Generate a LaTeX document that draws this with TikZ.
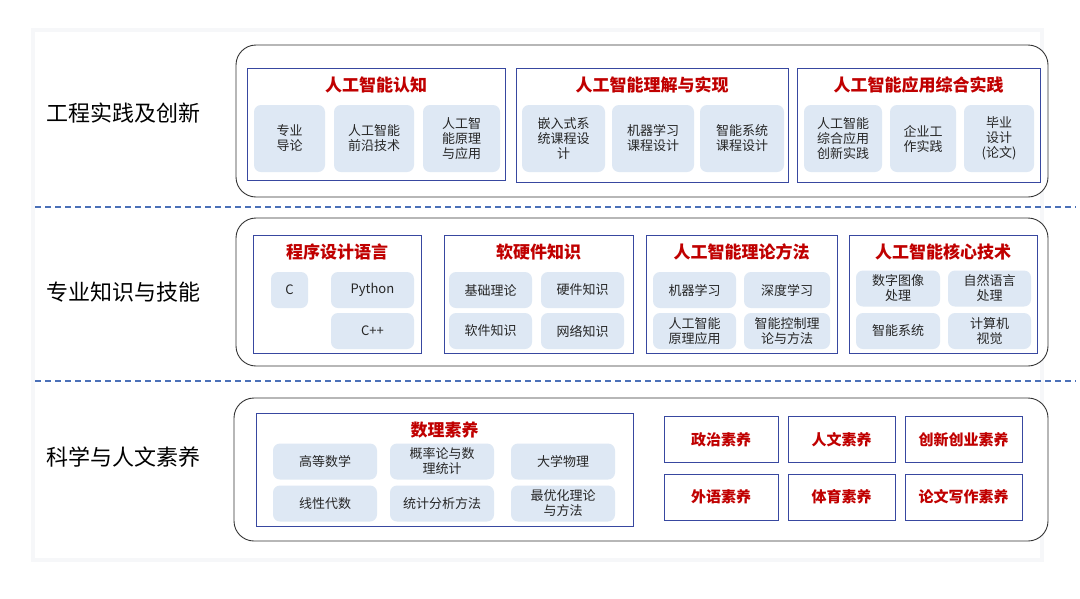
\documentclass[tikz,border=0pt]{standalone}
\usepackage{fontspec}
\setmainfont{Noto Sans CJK SC}
\usetikzlibrary{calc}
\definecolor{itemfill}{HTML}{DEE8F4}
\definecolor{groupline}{HTML}{3848A0}
\definecolor{titlered}{HTML}{C00000}
\definecolor{dashblue}{HTML}{4A70B8}
\definecolor{shadowgray}{HTML}{F6F7F9}
\newcommand{\drawItem}[5][36]{
	\node[item, minimum width={#3}, minimum height={#1}] (#2) at (#4) {#5};
}
\newcommand{\drawGroup}[4]{
	\draw[group] (#1) rectangle (#2);
	\node[grouptitle] (#3) at ($(#1)!0.5!(#2|-#1)+(0,17)$) {#4};
}
\tikzset{
	row/.style={draw=black!80, line width=0.9pt, rounded corners=20, fill=white},
	group/.style={draw=groupline, line width=0.8pt},
	grouptitle/.style={text=titlered, font=\fontsize{17}{19}\selectfont\bfseries},
	item/.style={fill=itemfill, rounded corners=7, align=center, inner sep=1pt,
		text=black!85, font=\fontsize{13}{15}\selectfont},
	redbox/.style={draw=groupline, line width=0.8pt, minimum width=#1, minimum height=46,
		text=titlered, font=\fontsize{15}{17}\selectfont\bfseries},
	rowlabel/.style={font=\fontsize{22}{25}\selectfont, text=black},
	sep/.style={draw=dashblue, line width=1.1pt, dash pattern=on 6pt off 4pt}
}
\begin{document}
\begin{tikzpicture}[x=1pt, y=-1pt]

	\useasboundingbox (0,0) rectangle (1080,598);
	\fill[shadowgray] (31,28) rectangle (1044,562);
	\fill[white] (35,32) rectangle (1040,558);

	% separators
	\draw[sep] (35,207) -- (1076,207);
	\draw[sep] (35,381) -- (1076,381);

	% row labels
	\node[rowlabel] (L1) at (123,113) {工程实践及创新};
	\node[rowlabel] (L2) at (123,292) {专业知识与技能};
	\node[rowlabel] (L3) at (123,457) {科学与人文素养};

	% row 1
	\draw[row] (236,45) rectangle (1048,197);
	\coordinate (A1_L) at (247,68);   \coordinate (A1_R) at (505,180);
	\coordinate (A2_L) at (516,68);   \coordinate (A2_R) at (788,182);
	\coordinate (A3_L) at (797,68);   \coordinate (A3_R) at (1040,182);
	\drawGroup{A1_L}{A1_R}{T11}{人工智能认知}
	\drawGroup{A2_L}{A2_R}{T12}{人工智能理解与实现}
	\drawGroup{A3_L}{A3_R}{T13}{人工智能应用综合实践}
	\drawItem[67]{I11}{71}{289.5,138.5}{专业\\导论}
	\drawItem[67]{I12}{80}{374,138.5}{人工智能\\前沿技术}
	\drawItem[67]{I13}{77}{461.5,138.5}{人工智\\能原理\\与应用}
	\drawItem[67]{I14}{83}{563.5,138.5}{嵌入式系\\统课程设\\计}
	\drawItem[67]{I15}{82}{653,138.5}{机器学习\\课程设计}
	\drawItem[67]{I16}{84}{742,138.5}{智能系统\\课程设计}
	\drawItem[67]{I17}{78}{843,138.5}{人工智能\\综合应用\\创新实践}
	\drawItem[67]{I18}{66}{923,138.5}{企业工\\作实践}
	\drawItem[67]{I19}{70}{999,138.5}{毕业\\设计\\(论文)}

	% row 2
	\draw[row] (236,218) rectangle (1048,366);
	\coordinate (B1_L) at (253,235);  \coordinate (B1_R) at (421,353);
	\coordinate (B2_L) at (444,235);  \coordinate (B2_R) at (633,353);
	\coordinate (B3_L) at (646,235);  \coordinate (B3_R) at (837,353);
	\coordinate (B4_L) at (849,235);  \coordinate (B4_R) at (1037,353);
	\drawGroup{B1_L}{B1_R}{T21}{程序设计语言}
	\drawGroup{B2_L}{B2_R}{T22}{软硬件知识}
	\drawGroup{B3_L}{B3_R}{T23}{人工智能理论方法}
	\drawGroup{B4_L}{B4_R}{T24}{人工智能核心技术}
	\drawItem{I21}{37}{289.5,290}{C}
	\drawItem{I22}{83}{372.5,290}{Python}
	\drawItem{I23}{83}{372.5,331}{C++}
	\drawItem{I24}{83}{490.5,290}{基础理论}
	\drawItem{I25}{83}{582.5,290}{硬件知识}
	\drawItem{I26}{83}{490.5,331}{软件知识}
	\drawItem{I27}{83}{582.5,331}{网络知识}
	\drawItem{I28}{83}{694.5,290}{机器学习}
	\drawItem{I29}{86}{787,290}{深度学习}
	\drawItem{I2a}{83}{694.5,331}{人工智能\\原理应用}
	\drawItem{I2b}{86}{787,331}{智能控制理\\论与方法}
	\drawItem{I2c}{84}{898,288.5}{数字图像\\处理}
	\drawItem{I2d}{83}{989.5,288.5}{自然语言\\处理}
	\drawItem{I2e}{84}{898,331}{智能系统}
	\drawItem{I2f}{83}{989.5,331}{计算机\\视觉}

	% row 3
	\draw[row] (234,398) rectangle (1048,541);
	\coordinate (C1_L) at (256,413);  \coordinate (C1_R) at (633,526);
	\drawGroup{C1_L}{C1_R}{T31}{数理素养}
	\drawItem{I31}{104}{325,461.5}{高等数学}
	\drawItem{I32}{104}{442,461.5}{概率论与数\\理统计}
	\drawItem{I33}{104}{563,461.5}{大学物理}
	\drawItem{I34}{104}{325,503.5}{线性代数}
	\drawItem{I35}{104}{442,503.5}{统计分析方法}
	\drawItem{I36}{104}{563,503.5}{最优化理论\\与方法}
	\node[redbox=114] (R1) at (721,439.5) {政治素养};
	\node[redbox=107] (R2) at (841.5,439.5) {人文素养};
	\node[redbox=117] (R3) at (963.5,439.5) {创新创业素养};
	\node[redbox=114] (R4) at (721,497) {外语素养};
	\node[redbox=107] (R5) at (841.5,497) {体育素养};
	\node[redbox=117] (R6) at (963.5,497) {论文写作素养};

\end{tikzpicture}
\end{document}
